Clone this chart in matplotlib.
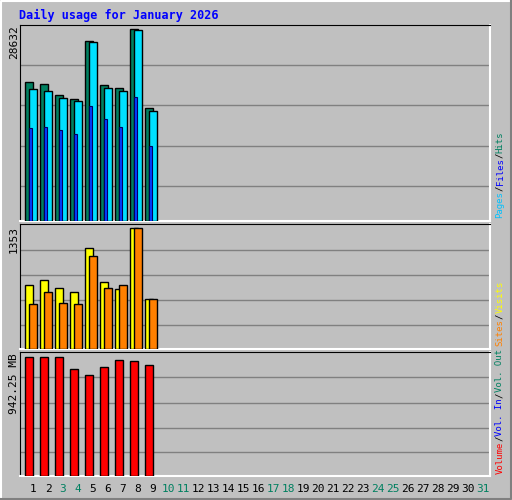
import matplotlib
matplotlib.use("Agg")
import matplotlib.pyplot as plt

days = list(range(1, 32))
data_days = [1, 2, 3, 4, 5, 6, 7, 8, 9]
hits = [20733, 20387, 18738, 18138, 26833, 20237, 19787, 28632, 16789]
files = [19743, 19443, 18393, 17944, 26638, 19893, 19443, 28437, 16445]
pages = [13896, 14046, 13641, 12997, 17194, 15245, 14046, 18543, 11198]
visits = [720, 777, 686, 641, 1138, 754, 675, 1353, 562]
sites = [505, 641, 517, 505, 1048, 686, 720, 1353, 562]
volume = [942.25, 942.25, 942.25, 847.6, 800.3, 863.3, 918.6, 910.7, 879.1]
weekends = [3, 4, 10, 11, 17, 18, 24, 25, 31]
title = "Daily usage for January 2026"

W, H = 512, 500
fig = plt.figure(figsize=(W/100, H/100), dpi=100)
fig.patch.set_facecolor("#C0C0C0")
BG = "#C0C0C0"
mono = "DejaVu Sans Mono"

fig.add_artist(plt.Line2D([0.5/W, 0.5/W, 1 - 1/W], [1/H, 1 - 0.5/H, 1 - 0.5/H], color="white", lw=1.5, transform=fig.transFigure))
fig.add_artist(plt.Line2D([1/W, 1 - 1/W, 1 - 1/W], [1/H, 1/H, 1 - 1/H], color="#808080", lw=1.5, transform=fig.transFigure))

fig.text(19/W, 1 - 15/H, title, color="#0000FF", fontsize=8.5, fontweight="bold", family=mono, va="center", ha="left")

x0, x1 = 20, 490
def make_ax(top, bot):
    ax = fig.add_axes([x0/W, 1 - bot/H, (x1 - x0)/W, (bot - top)/H])
    ax.set_facecolor(BG)
    ax.set_xlim(1 - 13/15, 1 + 457/15)
    for s in ("left", "top"):
        ax.spines[s].set_color("black")
    for s in ("right", "bottom"):
        ax.spines[s].set_color("white")
        ax.spines[s].set_linewidth(1.5)
    ax.set_xticks([]); ax.set_yticks([])
    return ax

def grid(ax, fracs):
    for f in fracs:
        ax.axhline(f * ax.get_ylim()[1], color="#808080", lw=1, zorder=0)

ec = dict(edgecolor="black", linewidth=1, zorder=3)
ax1 = make_ax(25, 221)
ax1.set_ylim(0, 28632 * 195 / 191)
grid(ax1, [35/195, 75/195, 115/195, 155/195])
ax1.bar([d - 0.27 for d in data_days], hits, width=0.53, color="#008060", **ec)
ax1.bar([d for d in data_days], files, width=0.53, color="#00E0FF", **ec)
ax1.bar([d - 0.17 for d in data_days], pages, width=0.2, color="#0040FF", edgecolor="#000060", linewidth=0.8, zorder=4)
fig.text(14/W, 1 - 25/H, "28632", rotation=90, fontsize=8, family=mono, ha="center", va="top")

ax2 = make_ax(224, 349)
ax2.set_ylim(0, 1353 * 124 / 119.7)
grid(ax2, [23.7/124, 48.7/124, 73.7/124, 98.7/124])
ax2.bar([d - 0.27 for d in data_days], visits, width=0.53, color="#FFFF00", **ec)
ax2.bar([d for d in data_days], sites, width=0.53, color="#FF8000", **ec)
fig.text(14/W, 1 - 226/H, "1353", rotation=90, fontsize=8, family=mono, ha="center", va="top")

ax3 = make_ax(352, 476)
ax3.set_ylim(0, 942.25 * 124 / 119.4)
grid(ax3, [24/124, 48.4/124, 73.4/124, 99/124])
ax3.bar([d - 0.27 for d in data_days], volume, width=0.5, color="#FF0000", **ec)
fig.text(14/W, 1 - 353/H, "942.25 MB", rotation=90, fontsize=8, family=mono, ha="center", va="top")

for d in days:
    xp = 33 + 15 * (d - 1)
    fig.text(xp/W, 1 - 489/H, str(d), fontsize=8, family=mono, ha="center", va="center",
             color="#008060" if d in weekends else "black")

FS = 6.5
def legend(parts, ybottom):
    adv = 0.602 * FS * 100 / 72
    y = ybottom
    for txt, col in parts:
        fig.text(500/W, 1 - y/H, txt, rotation=90, fontsize=FS, family=mono, color=col,
                 ha="center", va="bottom")
        y -= adv * len(txt)

legend([("Pages", "#00C0FF"), ("/", "black"), ("Files", "#0000FF"), ("/", "black"), ("Hits", "#008060")], 218)
legend([("Sites", "#FF8000"), ("/", "black"), ("Visits", "#FFFF00")], 346)
legend([("Volume", "#FF0000"), ("/", "black"), ("Vol. In", "#0000FF"), ("/", "black"), ("Vol. Out", "#008060")], 474)

fig.savefig("out.png", dpi=100, facecolor=fig.get_facecolor())
